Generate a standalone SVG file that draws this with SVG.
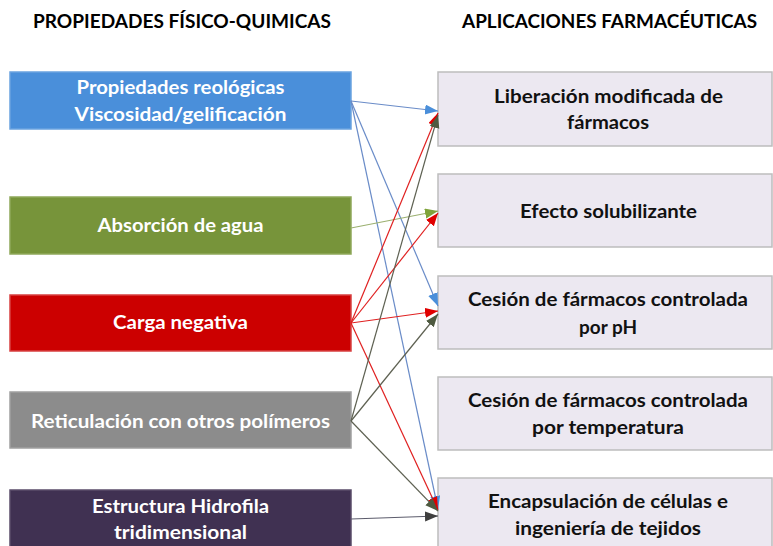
<svg xmlns="http://www.w3.org/2000/svg" width="773" height="546" viewBox="0 0 773 546">
<style>
.hdr{font-family:Lato,"Liberation Sans",sans-serif;font-weight:bold;font-size:18.5px;fill:#000}
.lt{font-family:Lato,"Liberation Sans",sans-serif;font-weight:bold;font-size:19px;fill:#fff;text-anchor:middle}
.rt{font-family:Lato,"Liberation Sans",sans-serif;font-weight:bold;font-size:19px;fill:#111;text-anchor:middle}
.rb{fill:#ECE8F1;stroke:#BDBDBD;stroke-width:1.5}
.lb{stroke-width:1.5}
.c{fill:none;stroke-width:1.2}
</style>
<defs>
<marker id="aB" markerUnits="userSpaceOnUse" markerWidth="14" markerHeight="12" refX="13" refY="5" orient="auto"><path d="M0,0 L13,5 L0,10 z" fill="#4A8FDA"/></marker>
<marker id="aG" markerUnits="userSpaceOnUse" markerWidth="14" markerHeight="12" refX="13" refY="5" orient="auto"><path d="M0,0 L13,5 L0,10 z" fill="#7FA33A"/></marker>
<marker id="aR" markerUnits="userSpaceOnUse" markerWidth="14" markerHeight="12" refX="13" refY="5" orient="auto"><path d="M0,0 L13,5 L0,10 z" fill="#E00000"/></marker>
<marker id="aY" markerUnits="userSpaceOnUse" markerWidth="14" markerHeight="12" refX="13" refY="5" orient="auto"><path d="M0,0 L13,5 L0,10 z" fill="#4E5A40"/></marker>
<marker id="aP" markerUnits="userSpaceOnUse" markerWidth="14" markerHeight="12" refX="13" refY="5" orient="auto"><path d="M0,0 L13,5 L0,10 z" fill="#3F3F3F"/></marker>
</defs>
<rect width="773" height="546" fill="#fff"/>
<text class="hdr" x="33" y="28" textLength="298" lengthAdjust="spacingAndGlyphs">PROPIEDADES FÍSICO-QUIMICAS</text>
<text class="hdr" x="462" y="28" textLength="295" lengthAdjust="spacingAndGlyphs">APLICACIONES FARMACÉUTICAS</text>

<g id="p1"><rect class="lb" x="10" y="72" width="341" height="57" fill="#4A8FDA" stroke="#6AA3E0"/>
<text class="lt" x="180.5" y="94" textLength="208" lengthAdjust="spacingAndGlyphs">Propiedades reológicas</text>
<text class="lt" x="180.5" y="121" textLength="212" lengthAdjust="spacingAndGlyphs">Viscosidad/gelificación</text></g>
<g id="p2"><rect class="lb" x="10" y="197" width="341" height="57" fill="#77943A" stroke="#8FA85A"/>
<text class="lt" x="180.5" y="232" textLength="166" lengthAdjust="spacingAndGlyphs">Absorción de agua</text></g>
<g id="p3"><rect class="lb" x="10" y="295" width="341" height="56" fill="#CC0000" stroke="#D84040"/>
<text class="lt" x="180.5" y="329" textLength="135" lengthAdjust="spacingAndGlyphs">Carga negativa</text></g>
<g id="p4"><rect class="lb" x="10" y="392" width="341" height="56" fill="#8C8C8C" stroke="#A0A0A0"/>
<text class="lt" x="180.5" y="428" textLength="299" lengthAdjust="spacingAndGlyphs">Reticulación con otros polímeros</text></g>
<g id="p5"><rect class="lb" x="10" y="490" width="341" height="58" fill="#403152" stroke="#5A4C6A"/>
<text class="lt" x="180.5" y="513" textLength="177" lengthAdjust="spacingAndGlyphs">Estructura Hidrofila</text>
<text class="lt" x="180.5" y="539" textLength="133" lengthAdjust="spacingAndGlyphs">tridimensional</text></g>

<g id="a1"><rect class="rb" x="438" y="72" width="334" height="74"/>
<text class="rt" x="608.5" y="103" textLength="229" lengthAdjust="spacingAndGlyphs">Liberación modificada de</text>
<text class="rt" x="608" y="129" textLength="82" lengthAdjust="spacingAndGlyphs">fármacos</text></g>
<g id="a2"><rect class="rb" x="438" y="174" width="334" height="73"/>
<text class="rt" x="608.5" y="218" textLength="177" lengthAdjust="spacingAndGlyphs">Efecto solubilizante</text></g>
<g id="a3"><rect class="rb" x="438" y="276" width="334" height="73"/>
<text class="rt" x="608" y="306" textLength="280" lengthAdjust="spacingAndGlyphs">Cesión de fármacos controlada</text>
<text class="rt" x="608" y="334" textLength="58" lengthAdjust="spacingAndGlyphs">por pH</text></g>
<g id="a4"><rect class="rb" x="438" y="377" width="334" height="73"/>
<text class="rt" x="608" y="407" textLength="280" lengthAdjust="spacingAndGlyphs">Cesión de fármacos controlada</text>
<text class="rt" x="608" y="434" textLength="152" lengthAdjust="spacingAndGlyphs">por temperatura</text></g>
<g id="a5"><rect class="rb" x="438" y="478" width="334" height="72"/>
<text class="rt" x="608" y="508" textLength="240" lengthAdjust="spacingAndGlyphs">Encapsulación de células e</text>
<text class="rt" x="608" y="535" textLength="186" lengthAdjust="spacingAndGlyphs">ingeniería de tejidos</text></g>

<g id="connectors">
<line class="c" x1="351" y1="101" x2="438" y2="111" stroke="#6A8CC8" marker-end="url(#aB)"/>
<line class="c" x1="351" y1="101" x2="438" y2="306" stroke="#6A8CC8" marker-end="url(#aB)"/>
<line class="c" x1="351" y1="101" x2="438" y2="509" stroke="#6A8CC8" marker-end="url(#aB)"/>
<line class="c" x1="351" y1="228" x2="438" y2="211" stroke="#9BB070" marker-end="url(#aG)"/>
<line class="c" x1="351" y1="323" x2="438" y2="113" stroke="#E02020" marker-end="url(#aR)"/>
<line class="c" x1="351" y1="323" x2="438" y2="213" stroke="#E02020" marker-end="url(#aR)"/>
<line class="c" x1="351" y1="323" x2="438" y2="311" stroke="#E02020" marker-end="url(#aR)"/>
<line class="c" x1="351" y1="323" x2="438" y2="510" stroke="#E02020" marker-end="url(#aR)"/>
<line class="c" x1="351" y1="421" x2="438" y2="115" stroke="#5E6152" marker-end="url(#aY)"/>
<line class="c" x1="351" y1="421" x2="438" y2="314" stroke="#5E6152" marker-end="url(#aY)"/>
<line class="c" x1="351" y1="421" x2="438" y2="511" stroke="#5E6152" marker-end="url(#aY)"/>
<line class="c" x1="351" y1="519" x2="438" y2="516" stroke="#5C5C6C" marker-end="url(#aP)"/>
</g>
</svg>
